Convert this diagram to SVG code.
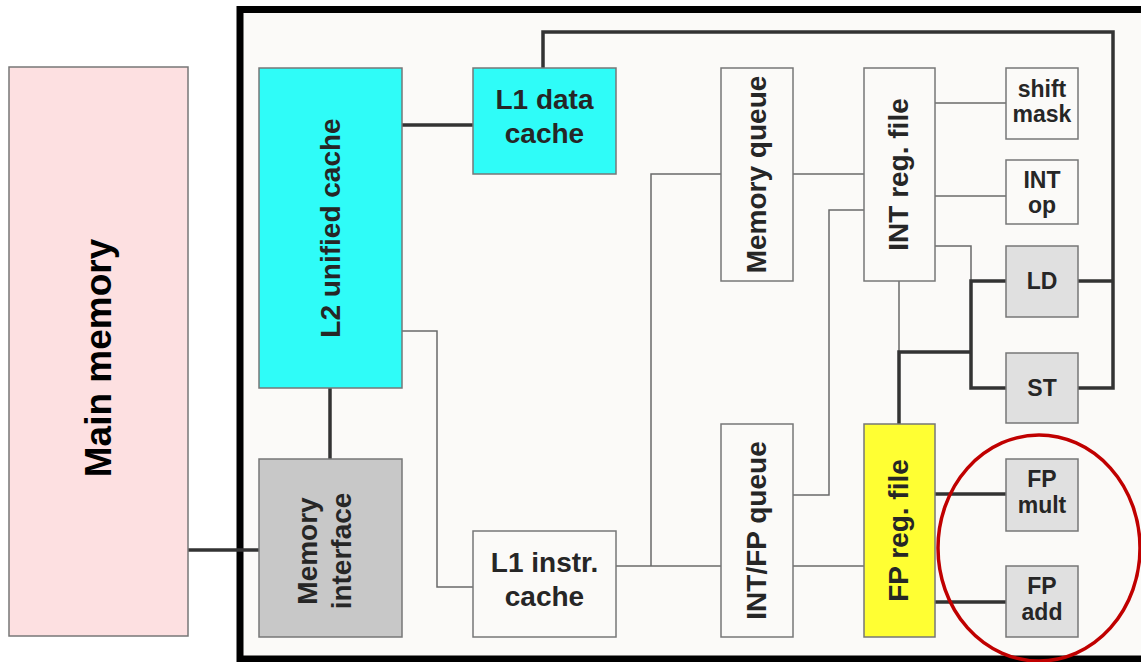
<svg xmlns="http://www.w3.org/2000/svg" width="1141" height="662" viewBox="0 0 1141 662">
<style>
.box{stroke:#777;stroke-width:1.5}
.w{fill:#fbfaf8}
.g{fill:#e0e0e0}
.t{font-family:"Liberation Sans",Arial,sans-serif;font-weight:bold;fill:#262626;text-anchor:middle}
.b{font-size:28px}
.s{font-size:23px}
.thin{fill:none;stroke:#6a6a6a;stroke-width:1.5}
.thick{fill:none;stroke:#333;stroke-width:3.5}
</style>
<rect width="1141" height="662" fill="#ffffff"/>
<rect id="chip" x="240" y="9.5" width="920" height="649.5" fill="#fbfaf8" stroke="#000" stroke-width="7"/>
<g id="connectors">
<path class="thick" d="M188 550H259" stroke="#111"/>
<path class="thick" d="M402 125H473"/>
<path class="thick" d="M543 68V32H1113V388H1078"/>
<path class="thick" d="M1078 281H1113"/>
<path class="thick" d="M330 388V459"/>
<path class="thin" d="M402 331H437V587H473"/>
<path class="thin" d="M616 566H721"/>
<path class="thin" d="M651 566V174H721"/>
<path class="thin" d="M793 174H864"/>
<path class="thin" d="M864 210H829V495H793"/>
<path class="thin" d="M793 566H864"/>
<path class="thin" d="M935 103H1006"/>
<path class="thin" d="M935 196H1006"/>
<path class="thin" d="M935 246H971V281"/>
<path class="thin" d="M899 281V352"/>
<path class="thick" d="M1006 281H971V388H1006"/>
<path class="thick" d="M971 352H899V424"/>
<path class="thick" d="M935 494H1006"/>
<path class="thick" d="M935 602H1006"/>
</g>
<g id="main-memory">
<rect class="box" x="9" y="67" width="179" height="569" fill="#fde0e1" stroke="#999"/>
<text class="t" font-size="37" fill="#000" style="fill:#000" transform="translate(111,358) rotate(-90)">Main memory</text>
</g>
<g id="l2-cache">
<rect class="box" x="259" y="68" width="143" height="320" fill="#2ffcf8"/>
<text class="t b" transform="translate(340,228) rotate(-90)">L2 unified cache</text>
</g>
<g id="l1-data-cache">
<rect class="box" x="473" y="68" width="143" height="106" fill="#2ffcf8"/>
<text class="t b" x="544.5" y="109">L1 data</text>
<text class="t b" x="544.5" y="143">cache</text>
</g>
<g id="memory-interface">
<rect class="box" x="259" y="459" width="143" height="178" fill="#c8c8c8"/>
<text class="t b" transform="translate(317,551) rotate(-90)">Memory</text>
<text class="t b" transform="translate(351,551) rotate(-90)">interface</text>
</g>
<g id="l1-instr-cache">
<rect class="box w" x="473" y="531" width="143" height="106"/>
<text class="t b" x="544.5" y="572">L1 instr.</text>
<text class="t b" x="544.5" y="606">cache</text>
</g>
<g id="memory-queue">
<rect class="box w" x="721" y="68" width="72" height="213"/>
<text class="t b" transform="translate(766,174.5) rotate(-90)">Memory queue</text>
</g>
<g id="int-reg-file">
<rect class="box w" x="864" y="68" width="71" height="213"/>
<text class="t b" transform="translate(908,174.5) rotate(-90)">INT reg. file</text>
</g>
<g id="int-fp-queue">
<rect class="box w" x="721" y="424" width="72" height="213"/>
<text class="t b" transform="translate(766,530.5) rotate(-90)">INT/FP queue</text>
</g>
<g id="fp-reg-file">
<rect class="box" x="864" y="424" width="71" height="213" fill="#ffff33"/>
<text class="t b" transform="translate(908,530.5) rotate(-90)">FP reg. file</text>
</g>
<g id="shift-mask">
<rect class="box w" x="1006" y="68" width="72" height="71"/>
<text class="t s" x="1042" y="97">shift</text>
<text class="t s" x="1042" y="122">mask</text>
</g>
<g id="int-op">
<rect class="box w" x="1006" y="160" width="72" height="64"/>
<text class="t s" x="1042" y="188">INT</text>
<text class="t s" x="1042" y="213">op</text>
</g>
<g id="ld">
<rect class="box g" x="1006" y="246" width="72" height="71"/>
<text class="t s" x="1042" y="289">LD</text>
</g>
<g id="st">
<rect class="box g" x="1006" y="353" width="72" height="70"/>
<text class="t s" x="1042" y="396">ST</text>
</g>
<g id="fp-mult">
<rect class="box g" x="1006" y="459" width="72" height="72"/>
<text class="t s" x="1042" y="487">FP</text>
<text class="t s" x="1042" y="513">mult</text>
</g>
<g id="fp-add">
<rect class="box g" x="1006" y="566" width="72" height="71"/>
<text class="t s" x="1042" y="594">FP</text>
<text class="t s" x="1042" y="620">add</text>
</g>
<ellipse id="highlight" cx="1039" cy="548" rx="101" ry="113" fill="none" stroke="#c00000" stroke-width="3.5"/>
</svg>
